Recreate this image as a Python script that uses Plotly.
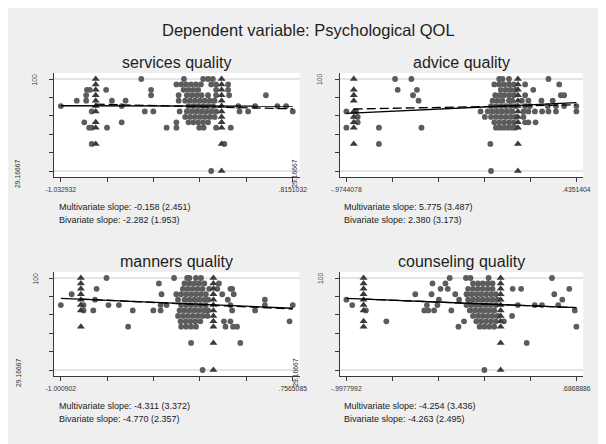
import plotly.graph_objects as go

# The page body has an 8px margin, so the figure starts at screen (8, 8).
OFF = 8
W, H = 590, 436
FONT = "Liberation Sans, Arial, sans-serif"

main_title = "Dependent variable: Psychological QOL"
panel_titles = ["services quality", "advice quality", "manners quality", "counseling quality"]
x_min = [-1.032932, -0.9744078, -1.000902, -0.9977992]
x_max = [0.8151032, 0.4351404, 0.7565085, 0.6868886]
x_min_labels = ["-1.032932", "-.9744078", "-1.000902", "-.9977992"]
x_max_labels = [".8151032", ".4351404", ".7565085", ".6868886"]
y_ticks = [29.16667, 43.33333, 57.5, 71.66667, 85.83333, 100]
y_tick_labels = ["29.16667", "", "", "", "", "100"]
multi_text = ["-0.158 (2.451)", "5.775 (3.487)", "-4.311 (3.372)", "-4.254 (3.436)"]
bi_text = ["-2.282 (1.953)", "2.380 (3.173)", "-4.770 (2.357)", "-4.263 (2.495)"]
multi_slope = [-0.158, 5.775, -4.311, -4.254]
bi_slope = [-2.282, 2.380, -4.770, -4.263]
solid_y_at_min = [79.4, 73.6, 84.3, 84.3]
dash_start_x = [-0.755, -0.929, -0.849, -0.872]
dash_start_y = [80.6, 76.9, 83.8, 83.8]

# circles: (y level, [x values])
services_circles = [
    (100, [-0.392, -0.052, 0.101, 0.140, 0.178]),
    (95.833, [-0.112, -0.073, -0.034, 0.005, 0.044, 0.083, 0.165, 0.204, 0.300]),
    (91.667, [-0.825, -0.802, -0.672, -0.314, -0.055, -0.016, 0.023, 0.062, 0.204, 0.300]),
    (87.5, [-0.831, -0.314, -0.094, -0.029, 0.010, 0.049, 0.088, 0.140, 0.204, 0.308, 0.601]),
    (83.333, [-0.906, -0.831, -0.626, -0.517, -0.094, -0.042, -0.003, 0.036, 0.075, 0.114, 0.153, 0.192]),
    (79.167, [-1.0329, -0.548, -0.016, 0.023, 0.062, 0.101, 0.140, 0.179, 0.381, 0.516, 0.692, 0.762]),
    (75, [-0.787, -0.364, -0.296, -0.086, -0.029, 0.010, 0.049, 0.088, 0.127, 0.166, 0.205, 0.391, 0.459, 0.8151]),
    (70.833, [-0.042, -0.003, 0.036, 0.075, 0.114, 0.153, 0.192]),
    (66.667, [-0.846, -0.548, -0.112, -0.016, 0.023, 0.062, 0.101, 0.140]),
    (62.5, [-0.807, -0.787, -0.665, -0.19, -0.112, 0.070, 0.105, 0.204, 0.321]),
    (50, [-0.787, 0.27]),
    (29.167, [0.165]),
]
services_triangles = [
    (-0.755, [100, 95.833, 91.667, 87.5, 83.333, 79.167, 75, 66.667, 62.5, 50]),
    (0.248, [100, 95.833, 91.667, 87.5, 83.333, 79.167, 75, 70.833, 66.667, 62.5, 50, 29.167]),
]

advice_circles = [
    (100, [-0.676, -0.576, -0.038, -0.018, 0.022, 0.264]),
    (95.833, [-0.068, -0.038, -0.008, 0.022, 0.051, 0.121, 0.330]),
    (91.667, [-0.660, -0.542, -0.028, 0.002, 0.032, 0.061, 0.171]),
    (87.5, [-0.566, -0.062, -0.034, -0.008, 0.022, 0.051, 0.121, 0.340, 0.360]),
    (83.333, [-0.532, -0.078, -0.048, -0.018, 0.022, 0.042, 0.101, 0.141, 0.221, 0.290]),
    (79.167, [-0.088, -0.058, -0.028, 0.002, 0.032, 0.061, 0.121, 0.151, 0.260, 0.310, 0.360, 0.4351]),
    (75, [-0.9744, -0.915, -0.152, -0.108, -0.078, -0.048, -0.018, 0.012, 0.042, 0.111, 0.141, 0.181, 0.225, 0.264, 0.310, 0.4351]),
    (70.833, [-0.905, -0.126, -0.088, -0.058, -0.028, 0.002, 0.032, 0.061, 0.111]),
    (66.667, [-0.905, -0.068, -0.038, -0.008, 0.022, 0.051, 0.121, 0.141, 0.185]),
    (62.5, [-0.9744, -0.775, -0.514, -0.058, -0.034, -0.008, 0.018, 0.042, 0.061]),
    (50, [-0.775, -0.092]),
    (29.167, [-0.088]),
]
advice_triangles = [
    (-0.929, [100, 91.667, 87.5, 83.333, 75, 70.833, 66.667, 62.5, 50]),
    (0.077, [100, 95.833, 91.667, 87.5, 83.333, 79.167, 75, 70.833, 66.667, 62.5, 50, 29.167]),
]

manners_circles = [
    (100, [-0.655, -0.143, -0.044, -0.026, 0.023, 0.061]),
    (95.833, [-0.258, -0.064, -0.026, 0.011, 0.048, 0.086, 0.197]),
    (91.667, [-0.73, -0.076, -0.039, -0.002, 0.036, 0.073, 0.123, 0.185, 0.284, 0.297]),
    (87.5, [-0.919, -0.238, -0.126, -0.089, -0.051, -0.014, 0.023, 0.061, 0.098, 0.222, 0.309]),
    (83.333, [-0.742, -0.113, -0.064, -0.026, 0.011, 0.048, 0.086, 0.115, 0.264, 0.545]),
    (79.167, [-1.0009, -0.829, -0.640, -0.561, -0.245, -0.20, -0.089, -0.051, -0.014, 0.023, 0.061, 0.098, 0.284, 0.545, 0.7565]),
    (75, [-0.829, -0.755, -0.456, -0.30, -0.245, -0.101, -0.064, -0.026, 0.011, 0.048, 0.086, 0.115, 0.297, 0.471]),
    (70.833, [-0.113, -0.076, -0.039, -0.002, 0.036, 0.073, 0.110]),
    (66.667, [-0.094, -0.056, -0.019, 0.018, 0.056, 0.235, 0.284, 0.732]),
    (62.5, [-0.491, -0.089, -0.051, -0.014, 0.023, 0.247, 0.304, 0.334]),
    (50, [-0.014, 0.359]),
    (29.167, [0.073]),
]
manners_triangles = [
    (-0.849, [100, 95.833, 91.667, 87.5, 83.333, 79.167, 75, 62.5]),
    (0.155, [100, 95.833, 91.667, 87.5, 83.333, 79.167, 75, 70.833, 66.667, 62.5, 50, 29.167]),
]

counseling_circles = [
    (100, [-0.241, -0.122, -0.089, 0.044, 0.508]),
    (95.833, [-0.367, -0.272, -0.070, -0.034, 0.001, 0.037, 0.073]),
    (91.667, [-0.308, -0.255, -0.106, -0.070, -0.034, 0.001, 0.037, 0.073, 0.220, 0.282, 0.635]),
    (87.5, [-0.493, -0.374, -0.20, -0.118, -0.082, -0.046, -0.011, 0.025, 0.061, 0.097, 0.525]),
    (83.333, [-0.9978, -0.32, -0.172, -0.106, -0.070, -0.034, 0.001, 0.037, 0.073, 0.109, 0.584]),
    (79.167, [-0.955, -0.408, -0.331, -0.118, -0.082, -0.046, -0.011, 0.025, 0.061, 0.097, 0.258, 0.382, 0.435, 0.554]),
    (75, [-0.855, -0.427, -0.398, -0.355, -0.229, -0.094, -0.058, -0.022, 0.013, 0.049, 0.085, 0.675]),
    (70.833, [-0.070, -0.034, 0.001, 0.037, 0.073, 0.109, 0.216]),
    (66.667, [-0.705, -0.136, -0.046, -0.011, 0.025, 0.061, 0.097, 0.156]),
    (62.5, [-0.177, -0.022, 0.013, 0.049, 0.085, 0.6869]),
    (50, [0.323]),
    (29.167, [0.013]),
]
counseling_triangles = [
    (-0.872, [100, 95.833, 91.667, 87.5, 83.333, 79.167, 75, 66.667, 62.5]),
    (0.132, [100, 95.833, 91.667, 87.5, 83.333, 79.167, 75, 70.833, 66.667, 62.5, 50, 29.167]),
]

panel_circles = [services_circles, advice_circles, manners_circles, counseling_circles]
panel_triangles = [services_triangles, advice_triangles, manners_triangles, counseling_triangles]

# ---- layout geometry (screen pixels) ----
col_px = [(47, 299), (340, 590)]
row_px = [(73, 177), (272, 376)]
PAD = 7      # horizontal plot-region margin (px)
VPAD = 6     # vertical plot-region margin (px)

def px_x(p):
    return (p - OFF) / W

def px_y(p):
    return 1 - (p - OFF) / H

fig = go.Figure()
annotations = []

for i in range(4):
    r, c = divmod(i, 2)
    x0p, x1p = col_px[c]
    y0p, y1p = row_px[r]
    ax = "" if i == 0 else str(i + 1)
    xa, ya = "x" + ax, "y" + ax

    # circles
    cx, cy = [], []
    for yv, xs in panel_circles[i]:
        for xv in xs:
            cx.append(xv)
            cy.append(yv)
    fig.add_trace(go.Scatter(x=cx, y=cy, mode="markers", xaxis=xa, yaxis=ya,
                             marker=dict(symbol="circle", size=5.8, color="#5c5c5c",
                                         line=dict(width=0)),
                             showlegend=False, hoverinfo="skip"))
    # triangles
    tx, ty = [], []
    for xv, ys in panel_triangles[i]:
        for yv in ys:
            tx.append(xv)
            ty.append(yv)
    fig.add_trace(go.Scatter(x=tx, y=ty, mode="markers", xaxis=xa, yaxis=ya,
                             marker=dict(symbol="triangle-up", size=7, color="#3a3a3a",
                                         line=dict(width=0)),
                             showlegend=False, hoverinfo="skip"))
    # multivariate fit (solid)
    sx = [x_min[i], x_max[i]]
    sy = [solid_y_at_min[i], solid_y_at_min[i] + multi_slope[i] * (x_max[i] - x_min[i])]
    fig.add_trace(go.Scatter(x=sx, y=sy, mode="lines", xaxis=xa, yaxis=ya,
                             line=dict(color="black", width=1.3),
                             showlegend=False, hoverinfo="skip"))
    # bivariate fit (dashed)
    dx = [dash_start_x[i], x_max[i]]
    dy = [dash_start_y[i], dash_start_y[i] + bi_slope[i] * (x_max[i] - dash_start_x[i])]
    fig.add_trace(go.Scatter(x=dx, y=dy, mode="lines", xaxis=xa, yaxis=ya,
                             line=dict(color="black", width=1.3, dash="9px,4px"),
                             showlegend=False, hoverinfo="skip"))

    # axis ranges
    span = x_max[i] - x_min[i]
    xpad = span * PAD / ((x1p - x0p) - 2 * PAD)
    yspan = y_ticks[-1] - y_ticks[0]
    ypad = yspan * VPAD / ((y1p - y0p) - 2 * VPAD)
    xt = [x_min[i] + span * k / 5 for k in range(6)]

    fig.update_layout(**{
        "xaxis" + ax: dict(
            domain=[px_x(x0p), px_x(x1p)], range=[x_min[i] - xpad, x_max[i] + xpad],
            anchor=ya, showgrid=False, zeroline=False, showline=True,
            linecolor="#3a3a3a", linewidth=1,
            tickmode="array", tickvals=[xt[0], xt[-1]],
            ticktext=[x_min_labels[i], x_max_labels[i]],
            ticks="outside", ticklen=4, tickcolor="#3a3a3a", tickwidth=1,
            tickfont=dict(family=FONT, size=6.8, color="#333333"),
            ticklabelstandoff=2,
            minor=dict(tickmode="array", tickvals=xt[1:-1], ticks="outside",
                       ticklen=4, tickcolor="#3a3a3a", tickwidth=1, showgrid=False),
            fixedrange=True,
        ),
        "yaxis" + ax: dict(
            domain=[px_y(y1p), px_y(y0p)], range=[y_ticks[0] - ypad, y_ticks[-1] + ypad],
            anchor=xa, showgrid=True, gridcolor="#e4e4e4", gridwidth=1.5,
            zeroline=False, showline=True, linecolor="#3a3a3a", linewidth=1,
            tickmode="array", tickvals=[y_ticks[0], y_ticks[-1]],
            ticks="outside", ticklen=4, tickcolor="#3a3a3a", tickwidth=1,
            showticklabels=False,
            minor=dict(tickmode="array", tickvals=y_ticks[1:-1], ticks="outside",
                       ticklen=4, tickcolor="#3a3a3a", tickwidth=1, showgrid=False),
            fixedrange=True,
        ),
    })

    # rotated y tick labels (Stata style placement)
    top_x = x0p - 19 if c == 0 else x0p - 20
    bot_x = 10 if c == 0 else 294
    annotations.append(dict(x=px_x(top_x), xref="paper", y=y_ticks[-1], yref=ya,
                            text=y_tick_labels[-1], textangle=-90, showarrow=False,
                            xanchor="center", yanchor="middle",
                            font=dict(family=FONT, size=6.8, color="#333333")))
    annotations.append(dict(x=px_x(bot_x), xref="paper", y=y_ticks[0], yref=ya,
                            text=y_tick_labels[0], textangle=-90, showarrow=False,
                            xanchor="center", yanchor="middle", yshift=-2,
                            font=dict(family=FONT, size=6.8, color="#333333")))
    # panel title
    annotations.append(dict(x=px_x((x0p + x1p) / 2), y=px_y(y0p - 10.5), xref="paper", yref="paper",
                            text=panel_titles[i], showarrow=False, xanchor="center", yanchor="middle",
                            font=dict(family=FONT, size=16, color="#1e1e1e")))
    # slope texts
    annotations.append(dict(x=px_x(x0p + 3), y=px_y(y1p + 30), xref="paper", yref="paper",
                            text="Multivariate slope: " + multi_text[i], showarrow=False,
                            xanchor="left", yanchor="middle",
                            font=dict(family=FONT, size=9, color="#222222")))
    annotations.append(dict(x=px_x(x0p + 3), y=px_y(y1p + 43), xref="paper", yref="paper",
                            text="Bivariate slope: " + bi_text[i], showarrow=False,
                            xanchor="left", yanchor="middle",
                            font=dict(family=FONT, size=9, color="#222222")))

annotations.append(dict(x=px_x(308), y=px_y(30), xref="paper", yref="paper", text=main_title,
                        showarrow=False, xanchor="center", yanchor="middle",
                        font=dict(family=FONT, size=16.5, color="#1e1e1e")))

fig.update_layout(width=W, height=H, margin=dict(l=0, r=0, t=0, b=0),
                  paper_bgcolor="#efefef", plot_bgcolor="white",
                  annotations=annotations, showlegend=False,
                  font=dict(family=FONT))

fig.write_html("out.html")
